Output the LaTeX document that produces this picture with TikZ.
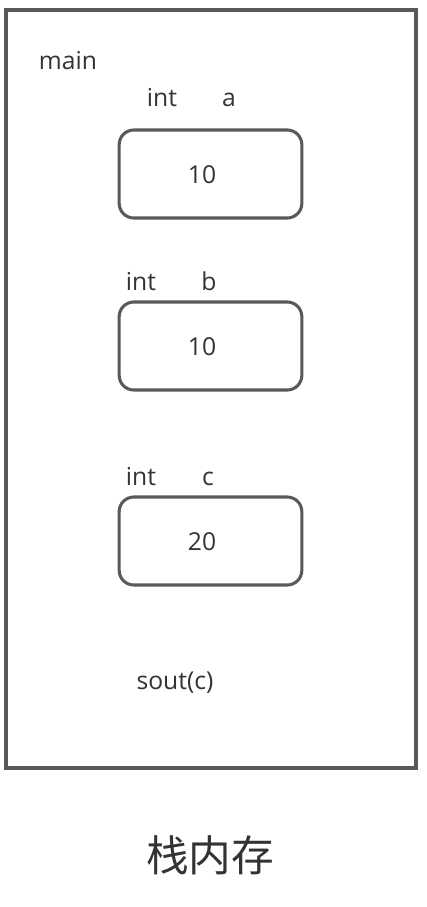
\documentclass[tikz,border=0pt]{standalone}
\usepackage{fontspec}
\setmainfont{Open Sans}
\newfontfamily\cjk{Noto Sans CJK SC}
\definecolor{edge}{HTML}{595959}
\definecolor{ink}{HTML}{333333}
\tikzset{
  cell/.style={draw=edge, line width=2.3pt, rounded corners=11pt, minimum width=137pt, minimum height=66pt},
  lbl/.style={anchor=base, text=ink, font=\fontsize{18.5}{22}\selectfont}
}
\begin{document}
\begin{tikzpicture}[x=0.75pt,y=-0.75pt]
                \useasboundingbox (0,0) rectangle (426,907);
                \draw [edge, line width=2.3pt] (6,10) rectangle (416,768);
                \node[lbl] (main) at (68,69) {main};
                \node[lbl] (ta) at (162,106) {int};
                \node[lbl] (na) at (229,106) {a};
                \node[cell] (a) at (210.5,174) {};
                \node[lbl] (va) at (202,183) {10};
                \node[lbl] (tb) at (141,290) {int};
                \node[lbl] (nb) at (209,290) {b};
                \node[cell] (b) at (210.5,346) {};
                \node[lbl] (vb) at (202,355) {10};
                \node[lbl] (tc) at (141,485) {int};
                \node[lbl] (nc) at (208,485) {c};
                \node[cell] (c) at (210.5,541) {};
                \node[lbl] (vc) at (202,550) {20};
                \node[lbl] (out) at (175,689) {sout(c)};
                \node[anchor=base, text=ink, font=\cjk\fontsize{32}{36}\selectfont] (title) at (210,871) {栈内存};
            \end{tikzpicture}
\end{document}
